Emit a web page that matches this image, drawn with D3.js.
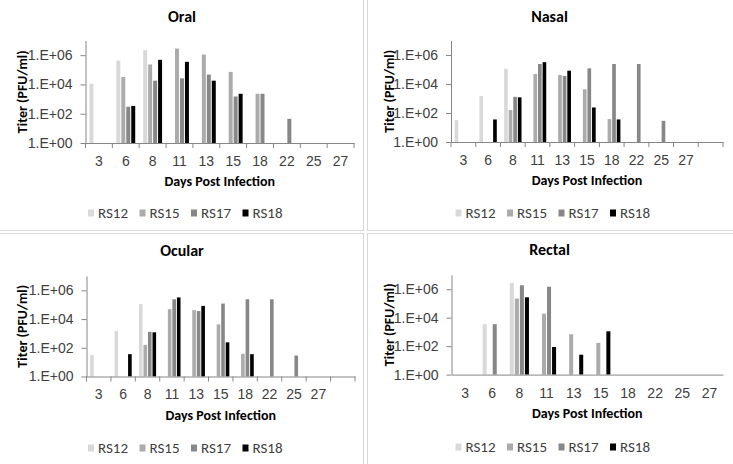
<!DOCTYPE html>
<html>
<head>
<meta charset="utf-8">
<script src="https://cdn.jsdelivr.net/npm/d3@7"></script>
<style>
  body { margin: 0; background: #fff; }
  svg { display: block; font-family: Calibri, Carlito, Lato, sans-serif; }
</style>
</head>
<body>
<div id="chart"></div>
<script>
// series + categories
var series = ["RS12", "RS15", "RS17", "RS18"];
var colors = ["#d9d9d9", "#ababab", "#878787", "#000000"];
var days = ["3", "6", "8", "11", "13", "15", "18", "22", "25", "27"];
var days11 = ["3", "6", "8", "11", "13", "15", "18", "22", "25", "27", ""];
var yTicks = [1, 1e2, 1e4, 1e6];

// Oral titers (PFU/ml), null = nothing detected
var oral_RS12 = [1.1e4, 4.3e5, 2.2e6, null, null, null, null, null, null, null];
var oral_RS15 = [null, 3.2e4, 2.3e5, 2.8e6, 1.1e6, 7.2e4, 2.3e3, null, null, null];
var oral_RS17 = [null, 300, 1.8e4, 2.6e4, 4.7e4, 1.5e3, 2.3e3, 45, null, null];
var oral_RS18 = [null, 340, 4.8e5, 3.5e5, 1.8e4, 2.3e3, null, null, null, null];

// Nasal
var nasal_RS12 = [32, 1.5e3, 1.1e5, null, null, null, null, null, null, null, null];
var nasal_RS15 = [null, null, 160, 4.9e4, 4.2e4, 4.3e3, 38, null, null, null, null];
var nasal_RS17 = [null, null, 1.3e3, 2.4e5, 3.6e4, 1.2e5, 2.4e5, 2.4e5, 29, null, null];
var nasal_RS18 = [null, 36, 1.2e3, 3.2e5, 8.3e4, 240, 36, null, null, null, null];

// Ocular
var ocular_RS12 = [32, 1.5e3, 1.1e5, null, null, null, null, null, null, null, null];
var ocular_RS15 = [null, null, 160, 4.9e4, 4.2e4, 4.3e3, 38, null, null, null, null];
var ocular_RS17 = [null, null, 1.3e3, 2.4e5, 3.6e4, 1.2e5, 2.4e5, 2.4e5, 29, null, null];
var ocular_RS18 = [null, 36, 1.2e3, 3.2e5, 8.3e4, 240, 36, null, null, null, null];

// Rectal
var rectal_RS12 = [null, 3.5e3, 2.8e6, null, null, null, null, null, null, null];
var rectal_RS15 = [null, null, 2.2e5, 1.9e4, 680, 170, null, null, null, null];
var rectal_RS17 = [null, 3.5e3, 1.9e6, 1.5e6, null, null, null, null, null, null];
var rectal_RS18 = [null, null, 2.7e5, 87, 25, 1.1e3, null, null, null, null];

var width = 733, height = 464;

var svg = d3.select("#chart")
  .append("svg")
  .attr("width", width)
  .attr("height", height)

// light panel frames
var frames = [[-1, -1, 364.5, 231.5], [367.5, -1, 367, 231.5], [-1, 233.5, 364.5, 232], [367.5, 233.5, 367, 232]];
svg.selectAll(".frame")
  .data(frames).enter().append("rect")
    .attr("class", "frame")
    .attr("x", function(d){ return d[0] })
    .attr("y", function(d){ return d[1] })
    .attr("width", function(d){ return d[2] })
    .attr("height", function(d){ return d[3] })
    .attr("fill", "none")
    .attr("stroke", "#d9d9d9")

function fmtE(v){
  var p = Math.round(Math.log10(v));
  return "1.E+" + (p < 10 ? "0" + p : p);
}

function drawPanel(opt){
  var g = svg.append("g");
  var values = opt.values;

  var x0 = d3.scaleBand()
    .domain(opt.cats)
    .range([opt.left, opt.right])
    .padding(0);

  var x1 = d3.scaleBand()
    .domain(series)
    .range([0, x0.bandwidth()])
    .paddingInner(0.2)
    .paddingOuter(0.8);

  var y = d3.scaleLog()
    .domain([1, 1e7])
    .range([opt.bottom, opt.top]);

  // bars
  series.forEach(function(s, si){
    var pts = opt.cats.map(function(c, i){ return {cat: c, v: values[si][i]} })
      .filter(function(d){ return d.v != null });
    g.selectAll(".bar" + s)
      .data(pts).enter().append("rect")
        .attr("x", function(d){ return x0(d.cat) + x1(s) })
        .attr("width", x1.bandwidth())
        .attr("y", function(d){ return y(d.v) })
        .attr("height", function(d){ return y(1) - y(d.v) })
        .attr("fill", colors[si])
  });

  // y axis
  var yAxis = g.append("g")
    .attr("transform", "translate(" + opt.left + ",0)")
    .call(d3.axisLeft(y).tickValues(yTicks).tickFormat(fmtE).tickSize(5).tickSizeOuter(0).tickPadding(8));
  yAxis.select(".domain").attr("stroke", "#868686");
  yAxis.selectAll(".tick line").attr("stroke", "#868686");
  yAxis.selectAll("text").attr("font-size", "14px").attr("fill", "#404040").attr("font-family", null);

  // x axis, labels centred, ticks between categories
  var xAxis = g.append("g")
    .attr("transform", "translate(0," + opt.bottom + ")")
    .call(d3.axisBottom(x0).tickSize(0).tickSizeOuter(0).tickPadding(13));
  xAxis.select(".domain").attr("stroke", "#868686");
  xAxis.selectAll("text").attr("font-size", "14px").attr("fill", "#404040").attr("font-family", null);

  if (opt.xticks) {
    var edges = opt.cats.map(function(c){ return x0(c) }).concat([opt.right]);
    g.selectAll(".xtick")
      .data(edges).enter().append("line")
        .attr("x1", function(d){ return d }).attr("x2", function(d){ return d })
        .attr("y1", opt.bottom).attr("y2", opt.bottom + 5)
        .attr("stroke", "#868686")
  }

  // titles
  g.append("text")
    .attr("x", opt.cx).attr("y", opt.titleY)
    .attr("text-anchor", "middle")
    .attr("font-size", "16px").attr("font-weight", "bold").attr("fill", "#000")
    .text(opt.title);

  g.append("text")
    .attr("x", (opt.left + opt.right) / 2).attr("y", opt.bottom + 43)
    .attr("text-anchor", "middle")
    .attr("font-size", "14px").attr("font-weight", "bold").attr("fill", "#000")
    .text("Days Post Infection");

  g.append("text")
    .attr("transform", "translate(" + (opt.cx - 160) + "," + ((opt.top + opt.bottom) / 2) + ") rotate(-90)")
    .attr("text-anchor", "middle")
    .attr("dy", "0.35em")
    .attr("font-size", "14px").attr("font-weight", "bold").attr("fill", "#000")
    .text("Titer (PFU/ml)");

  // legend
  var leg = g.append("g")
    .attr("transform", "translate(" + (opt.cx - 94) + "," + opt.legendY + ")");
  var item = leg.selectAll(".leg")
    .data(series).enter().append("g")
      .attr("transform", function(d, i){ return "translate(" + (i * 51.5) + ",0)" });
  item.append("rect")
    .attr("x", 0).attr("y", -3.5).attr("width", 6).attr("height", 7)
    .attr("fill", function(d, i){ return colors[i] });
  item.append("text")
    .attr("x", 10).attr("dy", "0.35em")
    .attr("font-size", "15px").attr("fill", "#404040")
    .text(function(d){ return d });
}

drawPanel({title: "Oral", cats: days, values: [oral_RS12, oral_RS15, oral_RS17, oral_RS18],
  left: 85.5, right: 354, top: 40.5, bottom: 143, cx: 182, titleY: 22, legendY: 213, xticks: true});
drawPanel({title: "Nasal", cats: days11, values: [nasal_RS12, nasal_RS15, nasal_RS17, nasal_RS18],
  left: 451, right: 723, top: 40.5, bottom: 142, cx: 549.5, titleY: 22, legendY: 213, xticks: true});
drawPanel({title: "Ocular", cats: days11, values: [ocular_RS12, ocular_RS15, ocular_RS17, ocular_RS18],
  left: 86.5, right: 355, top: 276, bottom: 376.5, cx: 182, titleY: 256, legendY: 448, xticks: true});
drawPanel({title: "Rectal", cats: days, values: [rectal_RS12, rectal_RS15, rectal_RS17, rectal_RS18],
  left: 451.5, right: 723, top: 275, bottom: 374.6, cx: 549.5, titleY: 255, legendY: 447, xticks: false});
</script>
</body>
</html>
